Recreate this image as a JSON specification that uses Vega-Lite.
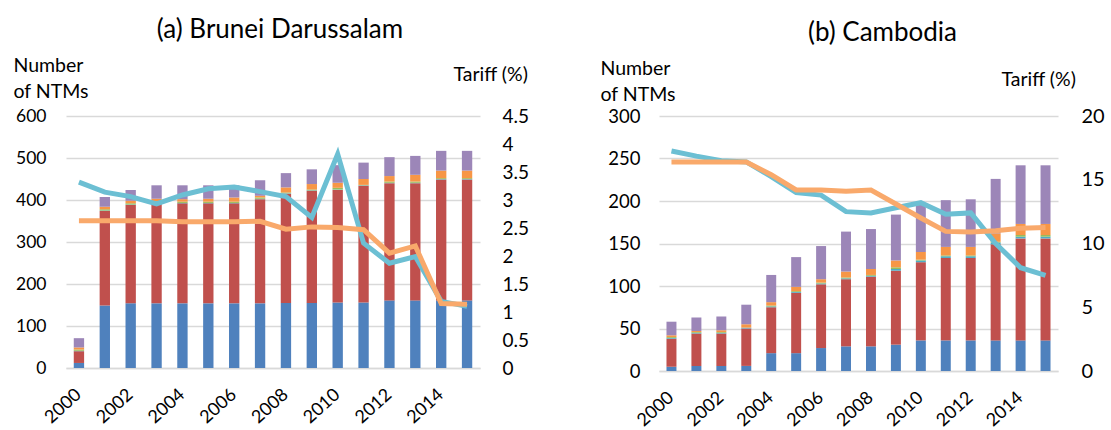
{
  "$schema": "https://vega.github.io/schema/vega-lite/v6.json",
  "padding": {"left": 13, "top": 17, "right": 5, "bottom": 5},
  "spacing": 71,
  "config": {
    "font": "Lato",
    "view": {"stroke": null},
    "axis": {"labelFont": "Lato", "titleFont": "Lato", "labelColor": "#000000", "titleColor": "#000000", "titleFontWeight": "normal"},
    "title": {"font": "Lato", "fontSize": 26, "fontWeight": "normal", "color": "#000000"}
  },
  "datasets": {
    "ntm": [
      {"country": "Brunei Darussalam", "year": 2000, "type": "A", "value": 12},
      {"country": "Brunei Darussalam", "year": 2000, "type": "B", "value": 28},
      {"country": "Brunei Darussalam", "year": 2000, "type": "C", "value": 1},
      {"country": "Brunei Darussalam", "year": 2000, "type": "D", "value": 3},
      {"country": "Brunei Darussalam", "year": 2000, "type": "E", "value": 5},
      {"country": "Brunei Darussalam", "year": 2000, "type": "F", "value": 22},
      {"country": "Brunei Darussalam", "year": 2001, "type": "A", "value": 149},
      {"country": "Brunei Darussalam", "year": 2001, "type": "B", "value": 225},
      {"country": "Brunei Darussalam", "year": 2001, "type": "C", "value": 1},
      {"country": "Brunei Darussalam", "year": 2001, "type": "D", "value": 3},
      {"country": "Brunei Darussalam", "year": 2001, "type": "E", "value": 6},
      {"country": "Brunei Darussalam", "year": 2001, "type": "F", "value": 23},
      {"country": "Brunei Darussalam", "year": 2002, "type": "A", "value": 154},
      {"country": "Brunei Darussalam", "year": 2002, "type": "B", "value": 234},
      {"country": "Brunei Darussalam", "year": 2002, "type": "C", "value": 1},
      {"country": "Brunei Darussalam", "year": 2002, "type": "D", "value": 3},
      {"country": "Brunei Darussalam", "year": 2002, "type": "E", "value": 6},
      {"country": "Brunei Darussalam", "year": 2002, "type": "F", "value": 26},
      {"country": "Brunei Darussalam", "year": 2003, "type": "A", "value": 154},
      {"country": "Brunei Darussalam", "year": 2003, "type": "B", "value": 237},
      {"country": "Brunei Darussalam", "year": 2003, "type": "C", "value": 1},
      {"country": "Brunei Darussalam", "year": 2003, "type": "D", "value": 3},
      {"country": "Brunei Darussalam", "year": 2003, "type": "E", "value": 8},
      {"country": "Brunei Darussalam", "year": 2003, "type": "F", "value": 32},
      {"country": "Brunei Darussalam", "year": 2004, "type": "A", "value": 154},
      {"country": "Brunei Darussalam", "year": 2004, "type": "B", "value": 238},
      {"country": "Brunei Darussalam", "year": 2004, "type": "C", "value": 1},
      {"country": "Brunei Darussalam", "year": 2004, "type": "D", "value": 3},
      {"country": "Brunei Darussalam", "year": 2004, "type": "E", "value": 6},
      {"country": "Brunei Darussalam", "year": 2004, "type": "F", "value": 33},
      {"country": "Brunei Darussalam", "year": 2005, "type": "A", "value": 154},
      {"country": "Brunei Darussalam", "year": 2005, "type": "B", "value": 238},
      {"country": "Brunei Darussalam", "year": 2005, "type": "C", "value": 1},
      {"country": "Brunei Darussalam", "year": 2005, "type": "D", "value": 3},
      {"country": "Brunei Darussalam", "year": 2005, "type": "E", "value": 7},
      {"country": "Brunei Darussalam", "year": 2005, "type": "F", "value": 32},
      {"country": "Brunei Darussalam", "year": 2006, "type": "A", "value": 154},
      {"country": "Brunei Darussalam", "year": 2006, "type": "B", "value": 238},
      {"country": "Brunei Darussalam", "year": 2006, "type": "C", "value": 1},
      {"country": "Brunei Darussalam", "year": 2006, "type": "D", "value": 3},
      {"country": "Brunei Darussalam", "year": 2006, "type": "E", "value": 10},
      {"country": "Brunei Darussalam", "year": 2006, "type": "F", "value": 29},
      {"country": "Brunei Darussalam", "year": 2007, "type": "A", "value": 154},
      {"country": "Brunei Darussalam", "year": 2007, "type": "B", "value": 248},
      {"country": "Brunei Darussalam", "year": 2007, "type": "C", "value": 1},
      {"country": "Brunei Darussalam", "year": 2007, "type": "D", "value": 3},
      {"country": "Brunei Darussalam", "year": 2007, "type": "E", "value": 4},
      {"country": "Brunei Darussalam", "year": 2007, "type": "F", "value": 37},
      {"country": "Brunei Darussalam", "year": 2008, "type": "A", "value": 155},
      {"country": "Brunei Darussalam", "year": 2008, "type": "B", "value": 260},
      {"country": "Brunei Darussalam", "year": 2008, "type": "C", "value": 1},
      {"country": "Brunei Darussalam", "year": 2008, "type": "D", "value": 2},
      {"country": "Brunei Darussalam", "year": 2008, "type": "E", "value": 12},
      {"country": "Brunei Darussalam", "year": 2008, "type": "F", "value": 34},
      {"country": "Brunei Darussalam", "year": 2009, "type": "A", "value": 155},
      {"country": "Brunei Darussalam", "year": 2009, "type": "B", "value": 267},
      {"country": "Brunei Darussalam", "year": 2009, "type": "C", "value": 1},
      {"country": "Brunei Darussalam", "year": 2009, "type": "D", "value": 2},
      {"country": "Brunei Darussalam", "year": 2009, "type": "E", "value": 13},
      {"country": "Brunei Darussalam", "year": 2009, "type": "F", "value": 35},
      {"country": "Brunei Darussalam", "year": 2010, "type": "A", "value": 156},
      {"country": "Brunei Darussalam", "year": 2010, "type": "B", "value": 268},
      {"country": "Brunei Darussalam", "year": 2010, "type": "C", "value": 1},
      {"country": "Brunei Darussalam", "year": 2010, "type": "D", "value": 4},
      {"country": "Brunei Darussalam", "year": 2010, "type": "E", "value": 12},
      {"country": "Brunei Darussalam", "year": 2010, "type": "F", "value": 42},
      {"country": "Brunei Darussalam", "year": 2011, "type": "A", "value": 156},
      {"country": "Brunei Darussalam", "year": 2011, "type": "B", "value": 278},
      {"country": "Brunei Darussalam", "year": 2011, "type": "C", "value": 1},
      {"country": "Brunei Darussalam", "year": 2011, "type": "D", "value": 1},
      {"country": "Brunei Darussalam", "year": 2011, "type": "E", "value": 14},
      {"country": "Brunei Darussalam", "year": 2011, "type": "F", "value": 39},
      {"country": "Brunei Darussalam", "year": 2012, "type": "A", "value": 161},
      {"country": "Brunei Darussalam", "year": 2012, "type": "B", "value": 279},
      {"country": "Brunei Darussalam", "year": 2012, "type": "C", "value": 1},
      {"country": "Brunei Darussalam", "year": 2012, "type": "D", "value": 3},
      {"country": "Brunei Darussalam", "year": 2012, "type": "E", "value": 13},
      {"country": "Brunei Darussalam", "year": 2012, "type": "F", "value": 45},
      {"country": "Brunei Darussalam", "year": 2013, "type": "A", "value": 161},
      {"country": "Brunei Darussalam", "year": 2013, "type": "B", "value": 279},
      {"country": "Brunei Darussalam", "year": 2013, "type": "C", "value": 1},
      {"country": "Brunei Darussalam", "year": 2013, "type": "D", "value": 3},
      {"country": "Brunei Darussalam", "year": 2013, "type": "E", "value": 16},
      {"country": "Brunei Darussalam", "year": 2013, "type": "F", "value": 45},
      {"country": "Brunei Darussalam", "year": 2014, "type": "A", "value": 161},
      {"country": "Brunei Darussalam", "year": 2014, "type": "B", "value": 288},
      {"country": "Brunei Darussalam", "year": 2014, "type": "C", "value": 1},
      {"country": "Brunei Darussalam", "year": 2014, "type": "D", "value": 2},
      {"country": "Brunei Darussalam", "year": 2014, "type": "E", "value": 18},
      {"country": "Brunei Darussalam", "year": 2014, "type": "F", "value": 47},
      {"country": "Brunei Darussalam", "year": 2015, "type": "A", "value": 161},
      {"country": "Brunei Darussalam", "year": 2015, "type": "B", "value": 288},
      {"country": "Brunei Darussalam", "year": 2015, "type": "C", "value": 1},
      {"country": "Brunei Darussalam", "year": 2015, "type": "D", "value": 2},
      {"country": "Brunei Darussalam", "year": 2015, "type": "E", "value": 18},
      {"country": "Brunei Darussalam", "year": 2015, "type": "F", "value": 47},
      {"country": "Cambodia", "year": 2000, "type": "A", "value": 5},
      {"country": "Cambodia", "year": 2000, "type": "B", "value": 33},
      {"country": "Cambodia", "year": 2000, "type": "C", "value": 1},
      {"country": "Cambodia", "year": 2000, "type": "D", "value": 1},
      {"country": "Cambodia", "year": 2000, "type": "E", "value": 2},
      {"country": "Cambodia", "year": 2000, "type": "F", "value": 16},
      {"country": "Cambodia", "year": 2001, "type": "A", "value": 6},
      {"country": "Cambodia", "year": 2001, "type": "B", "value": 38},
      {"country": "Cambodia", "year": 2001, "type": "C", "value": 1},
      {"country": "Cambodia", "year": 2001, "type": "D", "value": 1},
      {"country": "Cambodia", "year": 2001, "type": "E", "value": 1},
      {"country": "Cambodia", "year": 2001, "type": "F", "value": 16},
      {"country": "Cambodia", "year": 2002, "type": "A", "value": 6},
      {"country": "Cambodia", "year": 2002, "type": "B", "value": 38},
      {"country": "Cambodia", "year": 2002, "type": "C", "value": 1},
      {"country": "Cambodia", "year": 2002, "type": "D", "value": 1},
      {"country": "Cambodia", "year": 2002, "type": "E", "value": 2},
      {"country": "Cambodia", "year": 2002, "type": "F", "value": 16},
      {"country": "Cambodia", "year": 2003, "type": "A", "value": 6},
      {"country": "Cambodia", "year": 2003, "type": "B", "value": 44},
      {"country": "Cambodia", "year": 2003, "type": "C", "value": 1},
      {"country": "Cambodia", "year": 2003, "type": "D", "value": 0},
      {"country": "Cambodia", "year": 2003, "type": "E", "value": 4},
      {"country": "Cambodia", "year": 2003, "type": "F", "value": 23},
      {"country": "Cambodia", "year": 2004, "type": "A", "value": 21},
      {"country": "Cambodia", "year": 2004, "type": "B", "value": 54},
      {"country": "Cambodia", "year": 2004, "type": "C", "value": 1},
      {"country": "Cambodia", "year": 2004, "type": "D", "value": 1},
      {"country": "Cambodia", "year": 2004, "type": "E", "value": 4},
      {"country": "Cambodia", "year": 2004, "type": "F", "value": 32},
      {"country": "Cambodia", "year": 2005, "type": "A", "value": 21},
      {"country": "Cambodia", "year": 2005, "type": "B", "value": 71},
      {"country": "Cambodia", "year": 2005, "type": "C", "value": 1},
      {"country": "Cambodia", "year": 2005, "type": "D", "value": 1},
      {"country": "Cambodia", "year": 2005, "type": "E", "value": 5},
      {"country": "Cambodia", "year": 2005, "type": "F", "value": 35},
      {"country": "Cambodia", "year": 2006, "type": "A", "value": 27},
      {"country": "Cambodia", "year": 2006, "type": "B", "value": 75},
      {"country": "Cambodia", "year": 2006, "type": "C", "value": 1},
      {"country": "Cambodia", "year": 2006, "type": "D", "value": 1},
      {"country": "Cambodia", "year": 2006, "type": "E", "value": 4},
      {"country": "Cambodia", "year": 2006, "type": "F", "value": 39},
      {"country": "Cambodia", "year": 2007, "type": "A", "value": 29},
      {"country": "Cambodia", "year": 2007, "type": "B", "value": 79},
      {"country": "Cambodia", "year": 2007, "type": "C", "value": 1},
      {"country": "Cambodia", "year": 2007, "type": "D", "value": 1},
      {"country": "Cambodia", "year": 2007, "type": "E", "value": 7},
      {"country": "Cambodia", "year": 2007, "type": "F", "value": 47},
      {"country": "Cambodia", "year": 2008, "type": "A", "value": 29},
      {"country": "Cambodia", "year": 2008, "type": "B", "value": 82},
      {"country": "Cambodia", "year": 2008, "type": "C", "value": 1},
      {"country": "Cambodia", "year": 2008, "type": "D", "value": 1},
      {"country": "Cambodia", "year": 2008, "type": "E", "value": 7},
      {"country": "Cambodia", "year": 2008, "type": "F", "value": 47},
      {"country": "Cambodia", "year": 2009, "type": "A", "value": 31},
      {"country": "Cambodia", "year": 2009, "type": "B", "value": 87},
      {"country": "Cambodia", "year": 2009, "type": "C", "value": 2},
      {"country": "Cambodia", "year": 2009, "type": "D", "value": 2},
      {"country": "Cambodia", "year": 2009, "type": "E", "value": 8},
      {"country": "Cambodia", "year": 2009, "type": "F", "value": 54},
      {"country": "Cambodia", "year": 2010, "type": "A", "value": 36},
      {"country": "Cambodia", "year": 2010, "type": "B", "value": 92},
      {"country": "Cambodia", "year": 2010, "type": "C", "value": 2},
      {"country": "Cambodia", "year": 2010, "type": "D", "value": 1},
      {"country": "Cambodia", "year": 2010, "type": "E", "value": 9},
      {"country": "Cambodia", "year": 2010, "type": "F", "value": 56},
      {"country": "Cambodia", "year": 2011, "type": "A", "value": 36},
      {"country": "Cambodia", "year": 2011, "type": "B", "value": 97},
      {"country": "Cambodia", "year": 2011, "type": "C", "value": 2},
      {"country": "Cambodia", "year": 2011, "type": "D", "value": 1},
      {"country": "Cambodia", "year": 2011, "type": "E", "value": 10},
      {"country": "Cambodia", "year": 2011, "type": "F", "value": 55},
      {"country": "Cambodia", "year": 2012, "type": "A", "value": 36},
      {"country": "Cambodia", "year": 2012, "type": "B", "value": 97},
      {"country": "Cambodia", "year": 2012, "type": "C", "value": 2},
      {"country": "Cambodia", "year": 2012, "type": "D", "value": 1},
      {"country": "Cambodia", "year": 2012, "type": "E", "value": 10},
      {"country": "Cambodia", "year": 2012, "type": "F", "value": 56},
      {"country": "Cambodia", "year": 2013, "type": "A", "value": 36},
      {"country": "Cambodia", "year": 2013, "type": "B", "value": 113},
      {"country": "Cambodia", "year": 2013, "type": "C", "value": 2},
      {"country": "Cambodia", "year": 2013, "type": "D", "value": 1},
      {"country": "Cambodia", "year": 2013, "type": "E", "value": 10},
      {"country": "Cambodia", "year": 2013, "type": "F", "value": 64},
      {"country": "Cambodia", "year": 2014, "type": "A", "value": 36},
      {"country": "Cambodia", "year": 2014, "type": "B", "value": 120},
      {"country": "Cambodia", "year": 2014, "type": "C", "value": 2},
      {"country": "Cambodia", "year": 2014, "type": "D", "value": 2},
      {"country": "Cambodia", "year": 2014, "type": "E", "value": 13},
      {"country": "Cambodia", "year": 2014, "type": "F", "value": 69},
      {"country": "Cambodia", "year": 2015, "type": "A", "value": 36},
      {"country": "Cambodia", "year": 2015, "type": "B", "value": 120},
      {"country": "Cambodia", "year": 2015, "type": "C", "value": 2},
      {"country": "Cambodia", "year": 2015, "type": "D", "value": 2},
      {"country": "Cambodia", "year": 2015, "type": "E", "value": 13},
      {"country": "Cambodia", "year": 2015, "type": "F", "value": 69}
    ],
    "tariff": [
      {"country": "Brunei Darussalam", "year": 2000, "series": "Tariff 1", "tariff": 3.32},
      {"country": "Brunei Darussalam", "year": 2001, "series": "Tariff 1", "tariff": 3.14},
      {"country": "Brunei Darussalam", "year": 2002, "series": "Tariff 1", "tariff": 3.06},
      {"country": "Brunei Darussalam", "year": 2003, "series": "Tariff 1", "tariff": 2.93},
      {"country": "Brunei Darussalam", "year": 2004, "series": "Tariff 1", "tariff": 3.09},
      {"country": "Brunei Darussalam", "year": 2005, "series": "Tariff 1", "tariff": 3.2},
      {"country": "Brunei Darussalam", "year": 2006, "series": "Tariff 1", "tariff": 3.23},
      {"country": "Brunei Darussalam", "year": 2007, "series": "Tariff 1", "tariff": 3.15},
      {"country": "Brunei Darussalam", "year": 2008, "series": "Tariff 1", "tariff": 3.06},
      {"country": "Brunei Darussalam", "year": 2009, "series": "Tariff 1", "tariff": 2.69},
      {"country": "Brunei Darussalam", "year": 2010, "series": "Tariff 1", "tariff": 3.82},
      {"country": "Brunei Darussalam", "year": 2011, "series": "Tariff 1", "tariff": 2.23},
      {"country": "Brunei Darussalam", "year": 2012, "series": "Tariff 1", "tariff": 1.87},
      {"country": "Brunei Darussalam", "year": 2013, "series": "Tariff 1", "tariff": 1.99},
      {"country": "Brunei Darussalam", "year": 2014, "series": "Tariff 1", "tariff": 1.19},
      {"country": "Brunei Darussalam", "year": 2015, "series": "Tariff 1", "tariff": 1.1},
      {"country": "Brunei Darussalam", "year": 2000, "series": "Tariff 2", "tariff": 2.63},
      {"country": "Brunei Darussalam", "year": 2001, "series": "Tariff 2", "tariff": 2.63},
      {"country": "Brunei Darussalam", "year": 2002, "series": "Tariff 2", "tariff": 2.63},
      {"country": "Brunei Darussalam", "year": 2003, "series": "Tariff 2", "tariff": 2.63},
      {"country": "Brunei Darussalam", "year": 2004, "series": "Tariff 2", "tariff": 2.61},
      {"country": "Brunei Darussalam", "year": 2005, "series": "Tariff 2", "tariff": 2.61},
      {"country": "Brunei Darussalam", "year": 2006, "series": "Tariff 2", "tariff": 2.61},
      {"country": "Brunei Darussalam", "year": 2007, "series": "Tariff 2", "tariff": 2.62},
      {"country": "Brunei Darussalam", "year": 2008, "series": "Tariff 2", "tariff": 2.48},
      {"country": "Brunei Darussalam", "year": 2009, "series": "Tariff 2", "tariff": 2.52},
      {"country": "Brunei Darussalam", "year": 2010, "series": "Tariff 2", "tariff": 2.51},
      {"country": "Brunei Darussalam", "year": 2011, "series": "Tariff 2", "tariff": 2.47},
      {"country": "Brunei Darussalam", "year": 2012, "series": "Tariff 2", "tariff": 2.05},
      {"country": "Brunei Darussalam", "year": 2013, "series": "Tariff 2", "tariff": 2.18},
      {"country": "Brunei Darussalam", "year": 2014, "series": "Tariff 2", "tariff": 1.15},
      {"country": "Brunei Darussalam", "year": 2015, "series": "Tariff 2", "tariff": 1.14},
      {"country": "Cambodia", "year": 2000, "series": "Tariff 1", "tariff": 17.26},
      {"country": "Cambodia", "year": 2001, "series": "Tariff 1", "tariff": 16.85},
      {"country": "Cambodia", "year": 2002, "series": "Tariff 1", "tariff": 16.5},
      {"country": "Cambodia", "year": 2003, "series": "Tariff 1", "tariff": 16.4},
      {"country": "Cambodia", "year": 2004, "series": "Tariff 1", "tariff": 15.25},
      {"country": "Cambodia", "year": 2005, "series": "Tariff 1", "tariff": 14.0},
      {"country": "Cambodia", "year": 2006, "series": "Tariff 1", "tariff": 13.8},
      {"country": "Cambodia", "year": 2007, "series": "Tariff 1", "tariff": 12.5},
      {"country": "Cambodia", "year": 2008, "series": "Tariff 1", "tariff": 12.4},
      {"country": "Cambodia", "year": 2009, "series": "Tariff 1", "tariff": 12.8},
      {"country": "Cambodia", "year": 2010, "series": "Tariff 1", "tariff": 13.2},
      {"country": "Cambodia", "year": 2011, "series": "Tariff 1", "tariff": 12.3},
      {"country": "Cambodia", "year": 2012, "series": "Tariff 1", "tariff": 12.4},
      {"country": "Cambodia", "year": 2013, "series": "Tariff 1", "tariff": 10.0},
      {"country": "Cambodia", "year": 2014, "series": "Tariff 1", "tariff": 8.1},
      {"country": "Cambodia", "year": 2015, "series": "Tariff 1", "tariff": 7.5},
      {"country": "Cambodia", "year": 2000, "series": "Tariff 2", "tariff": 16.4},
      {"country": "Cambodia", "year": 2001, "series": "Tariff 2", "tariff": 16.4},
      {"country": "Cambodia", "year": 2002, "series": "Tariff 2", "tariff": 16.4},
      {"country": "Cambodia", "year": 2003, "series": "Tariff 2", "tariff": 16.4},
      {"country": "Cambodia", "year": 2004, "series": "Tariff 2", "tariff": 15.4},
      {"country": "Cambodia", "year": 2005, "series": "Tariff 2", "tariff": 14.2},
      {"country": "Cambodia", "year": 2006, "series": "Tariff 2", "tariff": 14.2},
      {"country": "Cambodia", "year": 2007, "series": "Tariff 2", "tariff": 14.1},
      {"country": "Cambodia", "year": 2008, "series": "Tariff 2", "tariff": 14.2},
      {"country": "Cambodia", "year": 2009, "series": "Tariff 2", "tariff": 13.1},
      {"country": "Cambodia", "year": 2010, "series": "Tariff 2", "tariff": 12.0},
      {"country": "Cambodia", "year": 2011, "series": "Tariff 2", "tariff": 10.95},
      {"country": "Cambodia", "year": 2012, "series": "Tariff 2", "tariff": 10.9},
      {"country": "Cambodia", "year": 2013, "series": "Tariff 2", "tariff": 11.0},
      {"country": "Cambodia", "year": 2014, "series": "Tariff 2", "tariff": 11.2},
      {"country": "Cambodia", "year": 2015, "series": "Tariff 2", "tariff": 11.25}
    ]
  },
  "hconcat": [
    {
      "width": 414,
      "height": 252,
      "title": {"text": "(a) Brunei Darussalam", "frame": "group", "anchor": "middle", "dx": 7, "offset": 12},
      "layer": [
        {
          "data": {"name": "ntm"},
          "transform": [{"filter": "datum.country == 'Brunei Darussalam'"}],
          "mark": {"type": "bar"},
          "encoding": {
            "x": {"field": "year", "type": "ordinal", "scale": {"paddingInner": 0.6, "paddingOuter": 0.3},
              "axis": {"values": [2000, 2002, 2004, 2006, 2008, 2010, 2012, 2014], "title": null, "labelAngle": -42, "labelAlign": "right", "labelBaseline": "middle", "labelFontSize": 18, "labelPadding": 24, "ticks": false, "domain": true, "domainColor": "#D9D9D9", "domainWidth": 1.5}},
            "y": {"field": "value", "type": "quantitative", "stack": "zero", "scale": {"domain": [0, 600]},
              "axis": {"values": [0, 100, 200, 300, 400, 500, 600], "grid": true, "gridColor": "#D9D9D9", "gridWidth": 1.5, "domain": false, "ticks": false, "labelPadding": 20, "labelFontSize": 17.5,
                "title": ["Number", "of NTMs"], "titleAngle": 0, "titleAlign": "left", "titleBaseline": "top", "titleX": -53, "titleY": -60, "titleFontSize": 19.5, "titleLineHeight": 26}},
            "color": {"field": "type", "type": "nominal", "scale": {"domain": ["A", "B", "C", "D", "E", "F"], "range": ["#4F81BD", "#C0504D", "#4BACC6", "#9BBB59", "#F79646", "#9C86B8"]}, "legend": null},
            "order": {"field": "type", "sort": "ascending"}
          }
        },
        {
          "data": {"name": "tariff"},
          "transform": [{"filter": "datum.country == 'Brunei Darussalam'"}],
          "mark": {"type": "line", "strokeWidth": 5},
          "encoding": {
            "x": {"field": "year", "type": "ordinal"},
            "y": {"field": "tariff", "type": "quantitative", "scale": {"domain": [0, 4.5]},
              "axis": {"orient": "right", "values": [0, 0.5, 1, 1.5, 2, 2.5, 3, 3.5, 4, 4.5], "format": "~g", "grid": false, "domain": false, "ticks": false, "labelPadding": 22, "labelFontSize": 19, "labelAlign": "left",
                "title": "Tariff (%)", "titleAngle": 0, "titleAlign": "left", "titleBaseline": "alphabetic", "titleX": -27, "titleY": -36, "titleFontSize": 19.5}},
            "color": {"field": "series", "type": "nominal", "scale": {"domain": ["Tariff 1", "Tariff 2"], "range": ["#6CBFD3", "#F9A96B"]}, "legend": null}
          }
        }
      ],
      "resolve": {"scale": {"y": "independent", "color": "independent"}}
    },
    {
      "width": 399,
      "height": 255,
      "title": {"text": "(b) Cambodia", "frame": "group", "anchor": "middle", "dx": 24, "offset": 12},
      "layer": [
        {
          "data": {"name": "ntm"},
          "transform": [{"filter": "datum.country == 'Cambodia'"}],
          "mark": {"type": "bar"},
          "encoding": {
            "x": {"field": "year", "type": "ordinal", "scale": {"paddingInner": 0.6, "paddingOuter": 0.3},
              "axis": {"values": [2000, 2002, 2004, 2006, 2008, 2010, 2012, 2014], "title": null, "labelAngle": -42, "labelAlign": "right", "labelBaseline": "middle", "labelFontSize": 18, "labelPadding": 24, "ticks": false, "domain": true, "domainColor": "#D9D9D9", "domainWidth": 1.5}},
            "y": {"field": "value", "type": "quantitative", "stack": "zero", "scale": {"domain": [0, 300]},
              "axis": {"values": [0, 50, 100, 150, 200, 250, 300], "grid": true, "gridColor": "#D9D9D9", "gridWidth": 1.5, "domain": false, "ticks": false, "labelPadding": 19, "labelFontSize": 18.5,
                "title": ["Number", "of NTMs"], "titleAngle": 0, "titleAlign": "left", "titleBaseline": "top", "titleX": -59, "titleY": -57, "titleFontSize": 19.5, "titleLineHeight": 26}},
            "color": {"field": "type", "type": "nominal", "scale": {"domain": ["A", "B", "C", "D", "E", "F"], "range": ["#4F81BD", "#C0504D", "#4BACC6", "#9BBB59", "#F79646", "#9C86B8"]}, "legend": null},
            "order": {"field": "type", "sort": "ascending"}
          }
        },
        {
          "data": {"name": "tariff"},
          "transform": [{"filter": "datum.country == 'Cambodia'"}],
          "mark": {"type": "line", "strokeWidth": 5},
          "encoding": {
            "x": {"field": "year", "type": "ordinal"},
            "y": {"field": "tariff", "type": "quantitative", "scale": {"domain": [0, 20]},
              "axis": {"orient": "right", "values": [0, 5, 10, 15, 20], "grid": false, "domain": false, "ticks": false, "labelPadding": 23, "labelFontSize": 20, "labelAlign": "left",
                "title": "Tariff (%)", "titleAngle": 0, "titleAlign": "left", "titleBaseline": "alphabetic", "titleX": -57, "titleY": -31, "titleFontSize": 19.5}},
            "color": {"field": "series", "type": "nominal", "scale": {"domain": ["Tariff 1", "Tariff 2"], "range": ["#6CBFD3", "#F9A96B"]}, "legend": null}
          }
        }
      ],
      "resolve": {"scale": {"y": "independent", "color": "independent"}}
    }
  ]
}
